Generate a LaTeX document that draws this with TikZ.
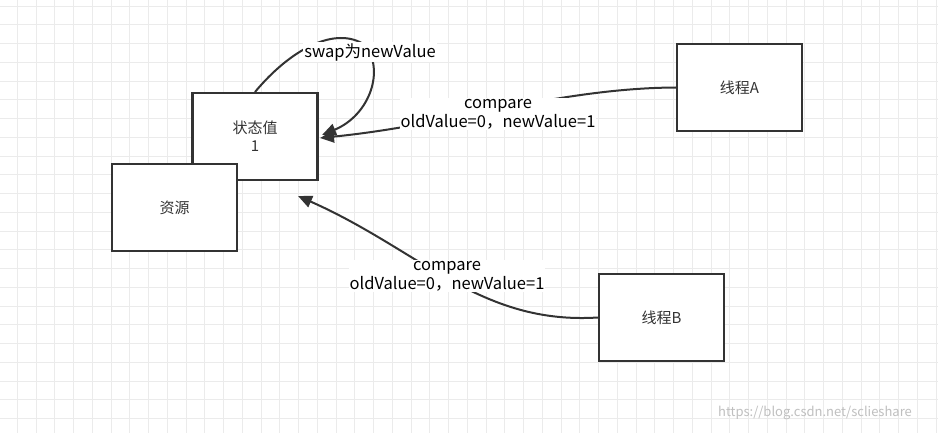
\documentclass[tikz,border=0pt]{standalone}
\usepackage{fontspec}
\setmainfont{Noto Sans CJK SC}
\usetikzlibrary{arrows.meta}
\begin{document}
\begin{tikzpicture}[x=1pt,y=-1pt,
  box/.style={draw=black!80,line width=2.2pt,fill=white,minimum width=125pt,minimum height=87pt,inner sep=0pt,font=\fontsize{15}{18}\selectfont,text=black!80},
  lbl/.style={fill=white,inner sep=1pt,align=center,font=\fontsize{16.5}{19}\selectfont,text=black},
  conn/.style={draw=black!80,line width=2pt,-{Triangle[length=14pt,width=12pt]}}]
\useasboundingbox (0,0) rectangle (938,433);
\fill[white] (0,0) rectangle (938,433);
\foreach \i in {0,...,50} {\draw[black!8,line width=0.8pt] (-1.5+18.75*\i,0) -- (-1.5+18.75*\i,433);}
\foreach \i in {0,...,23} {\draw[black!8,line width=0.8pt] (0,6+18.75*\i) -- (938,6+18.75*\i);}
\node[box,align=center] (s) at (255,136.5) {状态值\\1};
\node[box] (r) at (174.5,207.5) {资源};
\node[box] (a) at (739.5,87.5) {线程A};
\node[box] (b) at (661.5,317.5) {线程B};
\coordinate (st) at (255,92);
\draw[conn] (a.west) .. controls (560,88) and (450,125) .. (320,138);
\draw[conn] (b.west) .. controls (480,325) and (420,250) .. (298,196);
\draw[conn] (st) .. controls (290,50) and (335,25) .. (365,45) .. controls (385,70) and (370,115) .. (322,135);
\node[lbl] (la) at (498,114) {compare\\oldValue=0，newValue=1};
\node[lbl] (lb) at (447,276) {compare\\oldValue=0，newValue=1};
\node[lbl] (ls) at (370,52) {swap为newValue};
\node[text=black!25,font=\fontsize{13}{15}\selectfont] (w) at (815,413) {https://blog.csdn.net/sclieshare};
\end{tikzpicture}
\end{document}
